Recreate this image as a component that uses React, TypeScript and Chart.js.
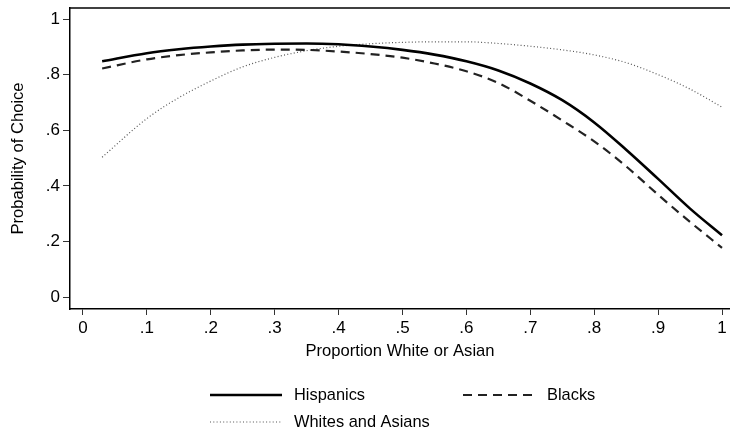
import React, { useEffect, useRef } from "react";
import { Chart, registerables } from "chart.js";

Chart.register(...registerables);

const X_VALUES = [0.03, 0.1, 0.15, 0.2, 0.25, 0.3, 0.35, 0.4, 0.45, 0.5, 0.55, 0.6, 0.65, 0.7, 0.75, 0.8, 0.85, 0.9, 0.95, 1.0];
const HISPANICS = [0.848, 0.877, 0.891, 0.901, 0.908, 0.911, 0.912, 0.909, 0.901, 0.889, 0.872, 0.848, 0.815, 0.768, 0.708, 0.628, 0.530, 0.425, 0.318, 0.222];
const BLACKS = [0.822, 0.855, 0.870, 0.880, 0.887, 0.890, 0.889, 0.883, 0.874, 0.861, 0.840, 0.812, 0.770, 0.706, 0.635, 0.560, 0.470, 0.368, 0.270, 0.177];
const WHITES_ASIANS = [0.503, 0.642, 0.717, 0.777, 0.828, 0.862, 0.886, 0.902, 0.911, 0.916, 0.918, 0.918, 0.912, 0.902, 0.889, 0.871, 0.843, 0.800, 0.748, 0.683];

const SERIES_LABELS = ["Hispanics", "Blacks", "Whites and Asians"];
const X_TICK_VALUES = [0, 0.1, 0.2, 0.3, 0.4, 0.5, 0.6, 0.7, 0.8, 0.9, 1];
const X_TICK_LABELS = ["0", ".1", ".2", ".3", ".4", ".5", ".6", ".7", ".8", ".9", "1"];
const Y_TICK_VALUES = [0, 0.2, 0.4, 0.6, 0.8, 1];
const Y_TICK_LABELS = ["0", ".2", ".4", ".6", ".8", "1"];
const X_TITLE = "Proportion White or Asian";
const Y_TITLE = "Probability of Choice";

const FONT = "'Liberation Sans', Arial, sans-serif";

const legendPlugin = {
  id: "stataLegend",
  afterDraw(chart: any) {
    const ctx = chart.ctx;
    const slots = [
      { x: 210, y: 395 },
      { x: 463, y: 395 },
      { x: 210, y: 422 },
    ];
    ctx.save();
    chart.data.datasets.forEach((ds: any, i: number) => {
      const s = slots[i];
      if (!s) return;
      ctx.beginPath();
      ctx.strokeStyle = ds.borderColor;
      ctx.lineWidth = ds.borderWidth;
      ctx.setLineDash(ds.borderDash || []);
      ctx.moveTo(s.x, s.y);
      ctx.lineTo(s.x + 72, s.y);
      ctx.stroke();
      ctx.setLineDash([]);
      ctx.fillStyle = "#000";
      ctx.font = `16.4px ${FONT}`;
      ctx.textBaseline = "middle";
      ctx.textAlign = "left";
      ctx.fillText(ds.label, s.x + 84, s.y);
    });
    const a = chart.chartArea;
    ctx.beginPath();
    ctx.strokeStyle = "#000";
    ctx.lineWidth = 1.5;
    ctx.moveTo(a.left, a.top);
    ctx.lineTo(a.right, a.top);
    ctx.stroke();
    ctx.restore();
  },
};

export default function App() {
  const ref = useRef<HTMLCanvasElement | null>(null);
  useEffect(() => {
    document.body.style.margin = "0";
    const canvas = ref.current;
    if (!canvas) return;
    const mk = (ys: number[]) => X_VALUES.map((x, i) => ({ x, y: ys[i] }));
    const chart = new Chart(canvas, {
      type: "line",
      data: {
        datasets: [
          { label: SERIES_LABELS[0], data: mk(HISPANICS), borderColor: "#000", borderWidth: 2.6, borderDash: [], pointRadius: 0, cubicInterpolationMode: "monotone", fill: false },
          { label: SERIES_LABELS[1], data: mk(BLACKS), borderColor: "#222", borderWidth: 2.2, borderDash: [9, 6], pointRadius: 0, cubicInterpolationMode: "monotone", fill: false },
          { label: SERIES_LABELS[2], data: mk(WHITES_ASIANS), borderColor: "#555", borderWidth: 1.2, borderDash: [1, 2.3], pointRadius: 0, cubicInterpolationMode: "monotone", fill: false },
        ],
      },
      options: {
        animation: false,
        responsive: false,
        maintainAspectRatio: false,
        layout: { padding: { left: 0, right: 0, top: 8, bottom: 68 } },
        plugins: { legend: { display: false }, tooltip: { enabled: false } },
        scales: {
          x: {
            type: "linear",
            min: -0.0203,
            max: 1.0125,
            afterBuildTicks: (s: any) => { s.ticks = X_TICK_VALUES.map((v) => ({ value: v })); },
            afterFit: (s: any) => { s.height = 56; s.paddingLeft = 0; s.paddingRight = 0; },
            ticks: {
              callback: (_v: any, i: number) => X_TICK_LABELS[i],
              color: "#000",
              font: { family: FONT, size: 17 },
              padding: 3,
              maxRotation: 0,
              autoSkip: false,
            },
            grid: { display: true, drawOnChartArea: false, drawTicks: true, tickLength: 6, color: "#333", lineWidth: 1 },
            border: { display: true, color: "#000", width: 1.5 },
            title: { display: true, text: X_TITLE, color: "#000", font: { family: FONT, size: 16.6 }, padding: { top: 0, bottom: 4 } },
          },
          y: {
            type: "linear",
            min: -0.043,
            max: 1.0396,
            afterBuildTicks: (s: any) => { s.ticks = Y_TICK_VALUES.map((v) => ({ value: v })); },
            afterFit: (s: any) => { s.width = 70; s.paddingTop = 0; s.paddingBottom = 0; },
            ticks: {
              callback: (_v: any, i: number) => Y_TICK_LABELS[i],
              color: "#000",
              font: { family: FONT, size: 17 },
              padding: 3,
              autoSkip: false,
            },
            grid: { display: true, drawOnChartArea: false, drawTicks: true, tickLength: 7, color: "#333", lineWidth: 1 },
            border: { display: true, color: "#000", width: 1.5 },
            title: { display: true, text: Y_TITLE, color: "#000", font: { family: FONT, size: 16.6 }, padding: { top: 8, bottom: 0 } },
          },
        },
      },
      plugins: [legendPlugin],
    } as any);
    return () => chart.destroy();
  }, []);
  return (
    <div style={{ position: "absolute", left: 0, top: 0, width: 730, height: 433, background: "#fff" }}>
      <canvas ref={ref} width={730} height={433} style={{ width: 730, height: 433 }} />
    </div>
  );
}
